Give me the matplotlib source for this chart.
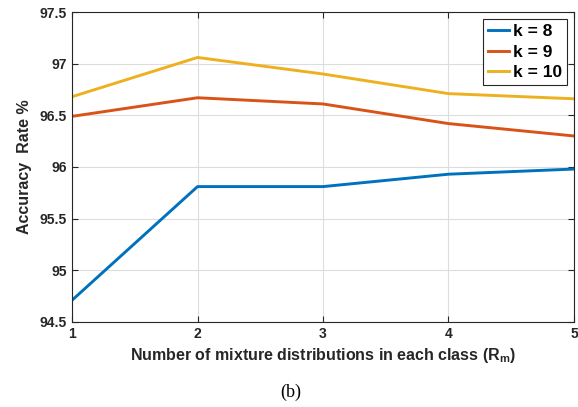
import matplotlib.pyplot as plt

# data
rm = [1, 2, 3, 4, 5]
k8 = [94.71, 95.81, 95.81, 95.93, 95.98]
k9 = [96.49, 96.67, 96.61, 96.42, 96.30]
k10 = [96.68, 97.06, 96.90, 96.71, 96.66]
labels = ["k = 8", "k = 9", "k = 10"]
colors = ["#0072BD", "#D95319", "#EDB120"]

plt.rcParams['font.family'] = ['Liberation Sans', 'DejaVu Sans']
plt.rcParams['mathtext.fontset'] = 'custom'
plt.rcParams['mathtext.bf'] = 'Liberation Sans:bold'
plt.rcParams['mathtext.rm'] = 'Liberation Sans'

fig = plt.figure(figsize=(5.78, 4.07), dpi=100)
ax = fig.add_axes([0.1246, 0.209, 0.8684, 0.7615])

for y, lab, c in zip([k8, k9, k10], labels, colors):
	ax.plot(rm, y, color=c, linewidth=2.1, label=lab)

ax.set_xlim(1, 5)
ax.set_ylim(94.5, 97.5)
ax.set_xticks(rm)
ax.set_yticks([94.5, 95, 95.5, 96, 96.5, 97, 97.5])
ax.set_yticklabels(["94.5", "95", "95.5", "96", "96.5", "97", "97.5"])
ax.grid(True, color='#dddddd', linewidth=0.8)
ax.tick_params(direction='in', top=True, right=True, labelsize=10, length=4, colors='#262626')
for t in ax.get_xticklabels() + ax.get_yticklabels():
	t.set_fontweight('bold')
for s in ax.spines.values():
	s.set_color('#262626')

ax.set_xlabel("Number of mixture distributions in each class (R$_{\\mathbf{m}}$)", fontsize=11.5, fontweight='bold', color='#262626', labelpad=4)
ax.set_ylabel("Accuracy  Rate %", fontsize=11.5, fontweight='bold', color='#262626', labelpad=6)

leg = ax.legend(loc='upper right', prop={'weight': 'bold', 'size': 12.5}, fancybox=False, framealpha=1,
	edgecolor='#262626', handlelength=1.2, handletextpad=0.2, borderpad=0.3, labelspacing=0.3, borderaxespad=0.4)
leg.get_frame().set_linewidth(0.8)

fig.text(0.503, 0.015, "(b)", ha='center', va='bottom', fontsize=13, family='Liberation Serif')

fig.savefig("out.png", dpi=100)
